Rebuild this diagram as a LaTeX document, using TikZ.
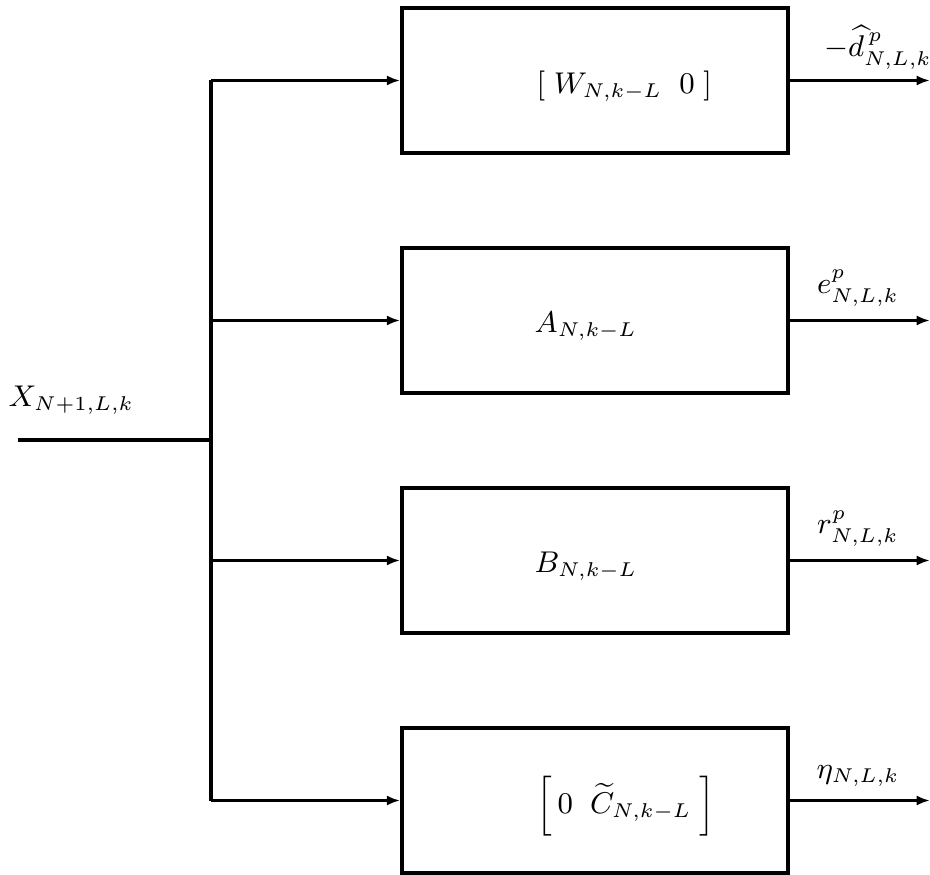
\documentclass[tikz,border=0pt]{standalone}
\usetikzlibrary{arrows.meta}
\begin{document}
\begin{tikzpicture}[x=0.3pt,y=-0.3pt,
  every node/.style={font=\fontsize{8.6}{10.5}\selectfont},
  blk/.style={draw,line width=1.05pt,minimum width=115.8pt,minimum height=43.5pt,inner sep=0pt},
  wire/.style={line width=1.05pt},
  arr/.style={line width=1.05pt,-{Latex[length=4pt,width=3pt]}},
  lbl/.style={anchor=west,inner sep=0pt},
  olbl/.style={anchor=south,inner sep=1pt}]
\useasboundingbox (0,0) rectangle (930,875);
\node[blk] (b1) at (595,80.5) {};
\node[blk] (b2) at (595,320.5) {};
\node[blk] (b3) at (595,560.5) {};
\node[blk] (b4) at (595,800.5) {};
\node[lbl] (t1) at (536,86) {$[\;W_{N,k-L}\;\;0\;]$};
\node[lbl] (t2) at (534,326) {$A_{N,k-L}$};
\node[lbl] (t3) at (534,566) {$B_{N,k-L}$};
\node[lbl] (t4) at (536,806) {$\left[\,0\;\;\widetilde{C}_{N,k-L}\;\right]$};
\coordinate (in) at (18,440);
\coordinate (j) at (211,440);
\coordinate (top) at (211,80.5);
\coordinate (bot) at (211,800.5);
\coordinate (j2) at (211,320.5);
\coordinate (j3) at (211,560.5);
\draw[wire] (in) -- (j);
\draw[wire] (top) -- (bot);
\draw[arr] (top) -- (b1.west);
\draw[arr] (j2) -- (b2.west);
\draw[arr] (j3) -- (b3.west);
\draw[arr] (bot) -- (b4.west);
\coordinate (o1) at (930,80.5);
\coordinate (o2) at (930,320.5);
\coordinate (o3) at (930,560.5);
\coordinate (o4) at (930,800.5);
\draw[arr] (b1.east) -- (o1);
\draw[arr] (b2.east) -- (o2);
\draw[arr] (b3.east) -- (o3);
\draw[arr] (b4.east) -- (o4);
\node[lbl] (x) at (8,400) {$X_{N+1,L,k}$};
\node[olbl] (l1) at (878,73) {$-\widehat{d}^{\,p}_{N,L,k}$};
\node[olbl] (l2) at (858,310) {$e^{p}_{N,L,k}$};
\node[olbl] (l3) at (858,550) {$r^{p}_{N,L,k}$};
\node[olbl] (l4) at (858,790) {$\eta_{N,L,k}$};
\end{tikzpicture}
\end{document}
